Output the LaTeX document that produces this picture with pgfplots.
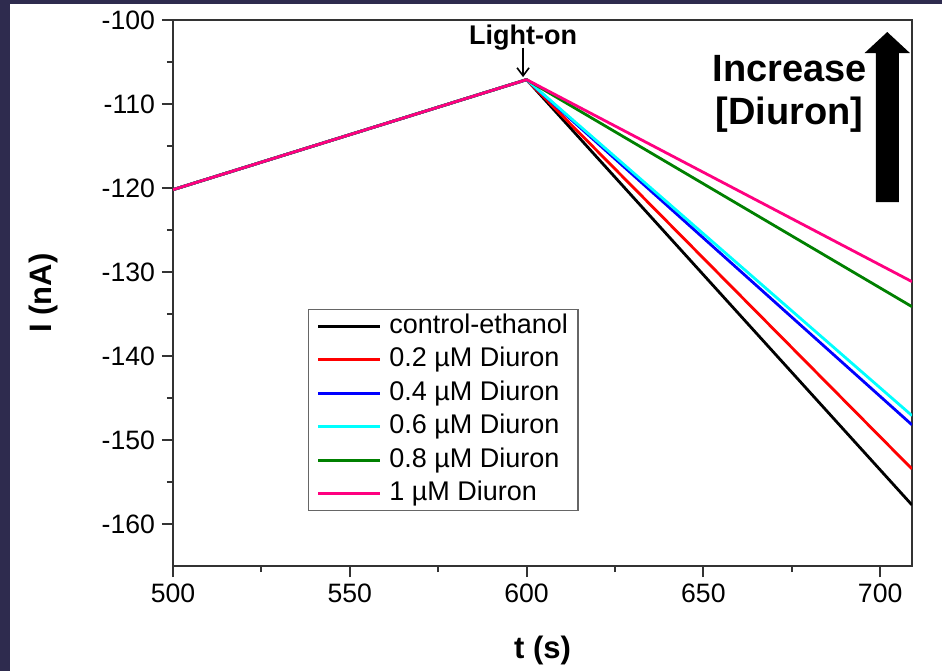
\documentclass[border=0pt]{standalone}
\usepackage{pgfplots}
\pgfplotsset{compat=1.18}
\usetikzlibrary{arrows.meta}
\usepackage{fontspec}
\setmainfont{Liberation Sans}
\definecolor{navy}{RGB}{46,43,78}
\definecolor{opink}{RGB}{255,0,128}
\definecolor{ogreen}{RGB}{0,128,0}
\definecolor{ocyan}{RGB}{0,255,255}
\definecolor{ored}{RGB}{255,0,0}
\definecolor{oblue}{RGB}{0,0,255}

\begin{document}
\begin{tikzpicture}
\fill[navy] (0,0) rectangle (471pt,335.5pt);
\fill[white] (5pt,0) rectangle (471pt,333.5pt);
\begin{axis}[
  at={(86.5pt,52.5pt)}, anchor=south west,
  width=369.5pt, height=273pt, scale only axis,
  xmin=500, xmax=709, ymin=-165, ymax=-100,
  xtick={500,550,...,700}, ytick={-160,-150,...,-100},
  minor tick num=1,
  tick align=outside, tick pos=left,
  major tick length=5.5pt, minor tick length=3pt,
  axis line style={black!80, line width=1pt},
  tick style={black!80, line width=1pt},
  ticklabel style={font=\fontsize{13.3}{16}\selectfont},
  /pgf/number format/assume math mode=true,
  xlabel={t (s)}, ylabel={I (nA)},
  xlabel style={font=\fontsize{15.5}{18}\selectfont\bfseries,
    at={(axis description cs:0.5,-0.154)}, anchor=center},
  ylabel style={font=\fontsize{15.5}{18}\selectfont\bfseries,
    at={(axis description cs:-0.1746,0.5)}, anchor=center},
  legend style={at={(axis description cs:0.1827,0.1)}, anchor=south west,
    draw=black!60, line width=0.6pt,
    font=\fontsize{13.5}{16}\selectfont,
    inner xsep=4pt, inner ysep=1pt, row sep=1.75pt,
    nodes={inner sep=1pt, text height=10pt, text depth=3pt}},
  legend cell align=left,
  legend image code/.code={\draw[#1] (1.5pt,0pt) -- (32.5pt,0pt); \path (35.5pt,0pt);},
  every axis plot/.append style={line width=1.4pt, line join=round},
]
\addplot[black] coordinates {(500,-120.2) (600,-107.1) (709,-157.74)};
\addlegendentry{control-ethanol}
\addplot[ored] coordinates {(500,-120.2) (600,-107.1) (709,-153.45)};
\addlegendentry{0.2 µM Diuron}
\addplot[oblue] coordinates {(500,-120.2) (600,-107.1) (709,-148.2)};
\addlegendentry{0.4 µM Diuron}
\addplot[ocyan] coordinates {(500,-120.2) (600,-107.1) (709,-147.1)};
\addlegendentry{0.6 µM Diuron}
\addplot[ogreen] coordinates {(500,-120.2) (600,-107.1) (709,-134.13)};
\addlegendentry{0.8 µM Diuron}
\addplot[opink] coordinates {(500,-120.2) (600,-107.1) (709,-131.15)};
\addlegendentry{1 µM Diuron}

\node[font=\fontsize{13.5}{16}\selectfont\bfseries] at (axis cs:599,-102.1) {Light-on};
\draw[-{Straight Barb[length=4pt,width=6pt]}, line width=0.8pt]
  (axis cs:599,-103.3) -- (axis cs:599,-106.8);
\fill[black] (axis cs:698.8,-121.67) -- (axis cs:698.8,-103.93)
  -- (axis cs:695.6,-103.93) -- (axis cs:702,-101.43)
  -- (axis cs:708.4,-103.93) -- (axis cs:705.3,-103.93)
  -- (axis cs:705.3,-121.67) -- cycle;
\node[align=center, font=\fontsize{19}{21.5}\selectfont\bfseries]
  at (axis cs:674.4,-108.8) {Increase\\{[Diuron]}};
\end{axis}
\pgfresetboundingbox
\path[use as bounding box] (0,0) rectangle (471pt,335.5pt);
\end{tikzpicture}
\end{document}
